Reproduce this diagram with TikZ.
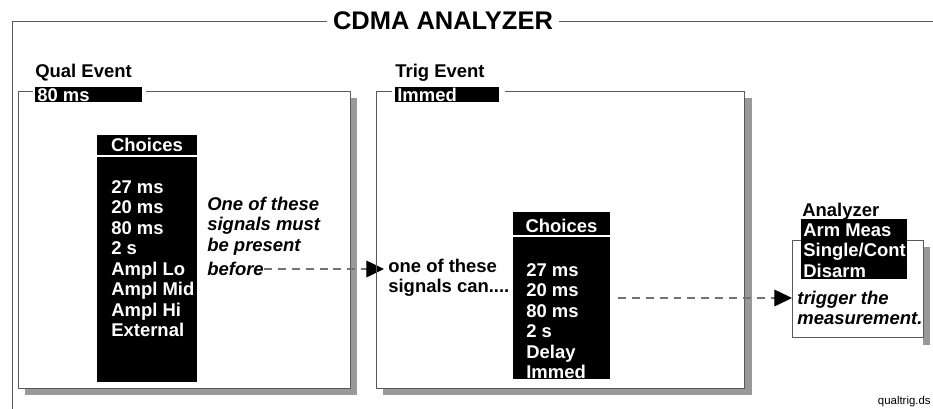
\documentclass[tikz,border=0pt]{standalone}
\usepackage{fontspec}
\setmainfont{Liberation Sans}
\usetikzlibrary{arrows.meta}

\tikzset{
  frameline/.style={draw=black!65, line width=0.5pt},
  stipple/.style={fill=black!40},
  titletext/.style={inner xsep=3pt, inner ysep=0pt, font=\bfseries\fontsize{14.5}{16}\selectfont},
  boxtitle/.style={anchor=west, inner sep=0pt, font=\bfseries\fontsize{10.5}{12}\selectfont},
  seltext/.style={anchor=west, inner sep=0pt, text=white, font=\bfseries\fontsize{10.5}{12}\selectfont},
  headtext/.style={inner sep=0pt, text=white, font=\bfseries\fontsize{10.5}{12}\selectfont},
  listtext/.style={anchor=west, align=left, inner sep=0pt, text=white, font=\bfseries\fontsize{10.5}{11.66}\selectfont},
  notetext/.style={anchor=west, align=left, inner sep=0pt, font=\bfseries\itshape\fontsize{10.5}{11.66}\selectfont},
  signaltext/.style={anchor=west, align=left, inner sep=0pt, font=\bfseries\fontsize{10.5}{11.66}\selectfont},
  fnametext/.style={anchor=east, inner sep=0pt, font=\fontsize{6.5}{8}\selectfont},
  flow/.style={draw=black!55, line width=0.6pt, dash pattern=on 4.5pt off 3.4pt,
    -{Triangle[length=10pt, width=9.5pt, color=black]}}
}

\begin{document}
\begin{tikzpicture}[x=0.02cm, y=-0.02cm]
  \useasboundingbox (0,0) rectangle (933,409);

  % --- frame ---
  \node[titletext] (title) at (443,21) {CDMA ANALYZER};
  \draw[frameline] (title.west) -- (12,21) -- (12,409);
  \draw[frameline] (title.east) -- (933,21);

  % --- Qual Event ---
  \fill[stipple] (350,98) rectangle (357,395);
  \fill[stipple] (25,388) rectangle (357,395);
  \draw[frameline] (33,91) -- (18,91) -- (18,388) -- (350,388) -- (350,91) -- (146,91);
  \node[boxtitle] (qualname) at (35,73) {Qual Event};
  \fill (35,87) rectangle (142,102);
  \node[seltext] (qualsel) at (37,95) {80 ms};

  % --- choices (qual) ---
  \fill (97,135) rectangle (197,382);
  \node[headtext] (qualhead) at (147,145) {Choices};
  \draw[white, line width=0.6pt] (97,156) -- (197,156);
  \node[listtext] (quallist) at (111,258.75)
    {27 ms\\20 ms\\80 ms\\2 s\\Ampl Lo\\Ampl Mid\\Ampl Hi\\External};

  % --- must be present ---
  \node[notetext] (must) at (207,226) {One of these\\signals must\\be present};
  \node[notetext] (before) at (207,269) {before};
  \coordinate (tiptrig) at (384,269);
  \draw[flow] (before.east) -- (tiptrig);
  \node[signaltext] (can) at (388,278) {one of these\\signals can....};

  % --- Trig Event ---
  \fill[stipple] (744,98) rectangle (752,395);
  \fill[stipple] (383,388) rectangle (752,395);
  \draw[frameline] (392,91) -- (376,91) -- (376,388) -- (744,388) -- (744,91) -- (505,91);
  \node[boxtitle] (trigname) at (395,73) {Trig Event};
  \fill (395,87) rectangle (499,102);
  \node[seltext] (trigsel) at (397,95) {Immed};

  % --- choices (trig) ---
  \fill (513,212) rectangle (610,379);
  \node[headtext] (trighead) at (561.5,226) {Choices};
  \draw[white, line width=0.6pt] (513,236) -- (610,236);
  \node[listtext] (triglist) at (526,321.25)
    {27 ms\\20 ms\\80 ms\\2 s\\Delay\\Immed};

  % --- trigger ---
  \coordinate (fromtrig) at (618,298);
  \coordinate (tipana) at (792,298);
  \draw[flow] (fromtrig) -- (tipana);

  % --- Analyzer ---
  \fill[stipple] (923,247) rectangle (930,345);
  \draw[frameline] (792,240) rectangle (923,337);
  \node[boxtitle] (ananame) at (802,212) {Analyzer};
  \fill (801,219) rectangle (907,279);
  \node[listtext] (analist) at (803,250.5) {Arm Meas\\Single/Cont\\Disarm};
  \node[notetext] (trigger) at (797,308) {trigger the\\measurement.};

  % --- file name ---
  \node[fnametext] (fname) at (931,402) {qualtrig.ds};

\end{tikzpicture}
\end{document}
